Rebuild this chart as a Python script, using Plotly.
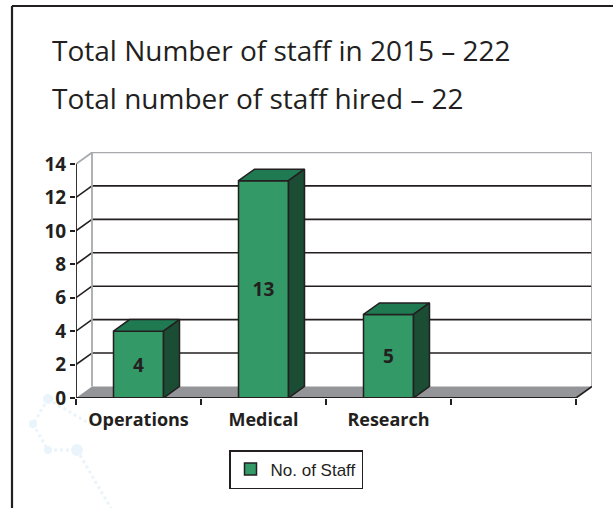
import plotly.graph_objects as go

# ---------------- data ----------------
categories = ["Operations", "Medical", "Research", ""]
staff = [4, 13, 5]
y_ticks = [0, 2, 4, 6, 8, 10, 12, 14]
title_lines = ["Total Number of staff in 2015 \u2013 222", "Total number of staff hired \u2013 22"]
series_name = "No. of Staff"

# ---------------- style ----------------
FRONT = "#339966"
TOP = "#1f7a52"
SIDE = "#1b4d34"
INK = "#231f20"
FLOOR = "#939598"
WALL = "#a7a9ac"
WM = "#eaf4fb"
BAR_W = 0.4
DX = 0.128   # depth offset (x data units)
DY = 0.69    # depth offset (y data units)

W, H = 613, 508
ML, MR, MT, MB = 76, 21, 152, 110
PW, PH = W - ML - MR, H - MT - MB
n_slots = len(categories)
X0 = -0.5
X1 = X0 + PW / 125.0
Y1 = PH / 16.714
xs = list(range(len(staff)))


def px(x):
    return (x - ML) / PW


def py(y):
    return (H - MB - y) / PH


fig = go.Figure()

# front faces of the bars
fig.add_bar(
    x=xs, y=staff, width=BAR_W, name=series_name,
    marker=dict(color=FRONT, line=dict(color=INK, width=1.5)),
    text=[str(v) for v in staff], textposition="inside",
    insidetextanchor="middle", textangle=0,
    textfont=dict(family="Open Sans", size=19, color=INK, weight="bold"),
    hoverinfo="x+y",
)

# top and side faces (depth)
for x, v in zip(xs, staff):
    l, r = x - BAR_W / 2, x + BAR_W / 2
    fig.add_scatter(
        x=[l, r, r + DX, l + DX, l], y=[v, v, v + DY, v + DY, v],
        fill="toself", fillcolor=TOP, mode="lines",
        line=dict(color=INK, width=1.5), showlegend=False, hoverinfo="skip",
    )
    fig.add_scatter(
        x=[r, r + DX, r + DX, r, r], y=[0, DY, v + DY, v, 0],
        fill="toself", fillcolor=SIDE, mode="lines",
        line=dict(color=INK, width=1.5), showlegend=False, hoverinfo="skip",
    )

shapes = []
xl, xr = X0, X0 + n_slots
top_val = y_ticks[-1]

# floor
shapes.append(dict(
    type="path", xref="x", yref="y", layer="below",
    path=f"M {xl},0 L {xr},0 L {xr + DX},{DY} L {xl + DX},{DY} Z",
    fillcolor=FLOOR, line=dict(width=0),
))
# back wall gridlines and left wall diagonals
for t in y_ticks[1:-1]:
    shapes.append(dict(type="line", xref="x", yref="y", layer="below",
                       x0=xl + DX, x1=xr + DX, y0=t + DY, y1=t + DY,
                       line=dict(color=INK, width=1.6)))
    shapes.append(dict(type="line", xref="x", yref="y", layer="below",
                       x0=xl, x1=xl + DX, y0=t, y1=t + DY,
                       line=dict(color=INK, width=1.6)))
# wall borders (grey)
shapes.append(dict(type="path", xref="x", yref="y", layer="below",
                   path=(f"M {xl},{top_val} L {xl + DX},{top_val + DY} "
                         f"L {xr + DX},{top_val + DY} L {xr + DX},{DY}"),
                   line=dict(color=WALL, width=1.8)))
shapes.append(dict(type="line", xref="x", yref="y", layer="below",
                   x0=xl + DX, x1=xl + DX, y0=DY, y1=top_val + DY,
                   line=dict(color=WALL, width=1.8)))
# floor right edge
shapes.append(dict(type="line", xref="x", yref="y", layer="below",
                   x0=xr, x1=xr + DX, y0=0, y1=DY,
                   line=dict(color=INK, width=1.6)))
# axis lines
shapes.append(dict(type="line", xref="x", yref="y", layer="above",
                   x0=xl, x1=xl, y0=0, y1=top_val,
                   line=dict(color=INK, width=1.8)))
shapes.append(dict(type="line", xref="x", yref="y", layer="above",
                   x0=xl, x1=xr, y0=0, y1=0,
                   line=dict(color=INK, width=2)))

# faint watermark
wm_pts = [(48, 399), (33, 424), (48, 450), (77, 450), (112, 510)]
for (a, b), (c, d) in zip(wm_pts[:-1], wm_pts[1:]):
    shapes.append(dict(type="line", xref="paper", yref="paper", layer="below",
                       x0=px(a), y0=py(b), x1=px(c), y1=py(d),
                       line=dict(color=WM, width=3, dash="dot")))
shapes.append(dict(type="line", xref="paper", yref="paper", layer="below",
                   x0=px(48), y0=py(399), x1=px(90), y1=py(424),
                   line=dict(color=WM, width=3, dash="dot")))
for (a, b, rr) in [(48, 399, 5), (33, 424, 4), (48, 450, 4), (77, 450, 6)]:
    shapes.append(dict(type="circle", xref="paper", yref="paper", layer="below",
                       x0=px(a - rr), x1=px(a + rr), y0=py(b - rr), y1=py(b + rr),
                       fillcolor=WM, line=dict(width=0)))

# outer frame (top and left edges visible)
shapes.append(dict(type="line", xref="paper", yref="paper", layer="above",
                   x0=px(12), x1=px(W + 5), y0=py(6), y1=py(6),
                   line=dict(color=INK, width=2.2)))
shapes.append(dict(type="line", xref="paper", yref="paper", layer="above",
                   x0=px(12), x1=px(12), y0=py(6), y1=py(H + 5),
                   line=dict(color=INK, width=2.2)))

annotations = []
for i, line in enumerate(title_lines):
    annotations.append(dict(
        text=line, xref="paper", yref="paper", x=px(50), y=py(50 + 48 * i),
        xanchor="left", yanchor="middle", showarrow=False,
        font=dict(family="Open Sans", size=28, color=INK),
    ))

fig.update_layout(
    width=W, height=H,
    margin=dict(l=ML, r=MR, t=MT, b=MB),
    paper_bgcolor="white", plot_bgcolor="white",
    shapes=shapes, annotations=annotations,
    showlegend=True,
    legend=dict(
        x=px(229), y=py(450), xanchor="left", yanchor="top",
        bgcolor="white", bordercolor=INK, borderwidth=1.5,
        font=dict(family="Liberation Sans", size=17, color=INK),
    ),
    xaxis=dict(
        range=[X0, X1], showgrid=False, zeroline=False, showline=False,
        tickmode="array", tickvals=list(range(n_slots)), ticktext=categories,
        ticks="", ticklabelstandoff=9,
        minor=dict(tickmode="array", tickvals=[X0 + i for i in range(n_slots + 1)],
                   ticks="outside", ticklen=6, tickwidth=1.6, tickcolor=INK, showgrid=False),
        tickfont=dict(family="Open Sans", size=18, color=INK, weight="bold"),
        fixedrange=True,
    ),
    yaxis=dict(
        range=[0, Y1], showgrid=False, zeroline=False, showline=False,
        tickmode="array", tickvals=y_ticks, ticks="outside", ticklen=5,
        tickwidth=1.6, tickcolor=INK,
        tickfont=dict(family="Open Sans", size=19, color=INK, weight="bold"),
        fixedrange=True,
    ),
)

fig.write_html(
    "out.html",
    config={"displayModeBar": False},
    post_script="document.body.style.margin='0';document.documentElement.style.margin='0';",
)
